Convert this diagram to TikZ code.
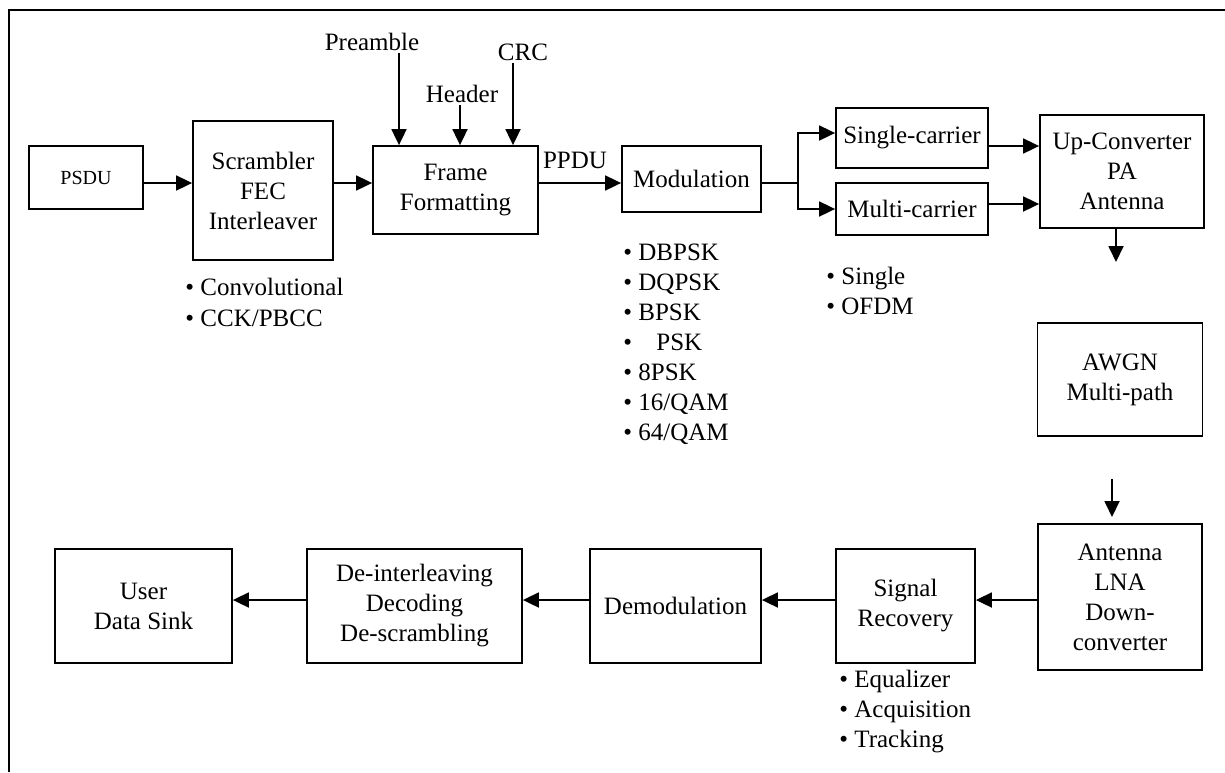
\documentclass[tikz,border=0pt]{standalone}
\usepackage{fontspec}
\setmainfont{Liberation Serif}
\usetikzlibrary{positioning,arrows.meta}

\tikzset{
  blk/.style={draw, line width=0.9pt, align=center, inner sep=1pt},
  arr/.style={line width=0.9pt, -{Triangle[length=8pt,width=7.5pt]}},
  lbl/.style={inner sep=1pt},
  item/.style={anchor=base west, inner sep=0pt}
}

\begin{document}
\begin{tikzpicture}[x=0.5pt, y=-0.5pt, font=\fontsize{12.5}{15}\selectfont]
    \useasboundingbox (0,0) rectangle (1225,772);
    \draw[line width=1.2pt] (9,772) -- (9,10) -- (1225,10);

    % transmitter chain
    \node[blk, font=\fontsize{10}{12}\selectfont, minimum width=57pt, minimum height=31.5pt] (psdu) at (86,177.5) {PSDU};
    \node[blk, minimum width=70pt, minimum height=69.5pt] (scr) at (263,190.5) {Scrambler\\FEC\\Interleaver};
    \node[blk, minimum width=82.5pt, minimum height=44pt] (fmt) at (455.5,190) {Frame\\Formatting};
    \node[blk, minimum width=69.5pt, minimum height=33pt] (modu) at (691.5,179) {Modulation};
    \node[blk, minimum width=76pt, minimum height=30pt] (single) at (912,138) {Single-carrier};
    \node[blk, minimum width=76pt, minimum height=26pt] (multi) at (912,209) {Multi-carrier};
    \node[blk, minimum width=82pt, minimum height=56.5pt] (up) at (1122,171.5) {Up-Converter\\PA\\Antenna};

    \node[lbl] (pre) at (372,42) {Preamble};
    \node[lbl] (hdr) at (462,94) {Header};
    \node[lbl] (crc) at (523,52) {CRC};
    \node[lbl] (ppdu) at (575,160) {PPDU};

    \coordinate (row) at (0,183);
    \coordinate (split) at (798,183);

    \draw[arr] (psdu.east |- row) -- (scr.west |- row);
    \draw[arr] (scr.east |- row) -- (fmt.west |- row);
    \draw[arr] (fmt.east |- row) -- (modu.west |- row);
    \draw[arr] (pre.south -| 399,0) -- (399,0 |- fmt.north);
    \draw[arr] (hdr.south -| 460,0) -- (460,0 |- fmt.north);
    \draw[arr] (crc.south -| 513,0) -- (513,0 |- fmt.north);
    \draw[line width=0.9pt] (modu.east |- split) -- (split);
    \draw[arr] (split) |- ([yshift=2.5pt]single.west);
    \draw[arr] (split) |- (multi.west);
    \draw[arr] (single.east |- 0,146) -- (up.west |- 0,146);
    \draw[arr] (multi.east |- 0,204) -- (up.west |- 0,204);

    % bullet lists
    \foreach \t [count=\i from 0] in {Convolutional, CCK/PBCC}
        \node[item] (c\i) at (185,295+31*\i) {\textbullet\ \t};
    \foreach \t [count=\i from 0] in {DBPSK, DQPSK, BPSK, {\hspace{9pt}PSK}, 8PSK, 16/QAM, 64/QAM}
        \node[item] (m\i) at (623,260+30*\i) {\textbullet\ \t};
    \foreach \t [count=\i from 0] in {Single, OFDM}
        \node[item] (s\i) at (826,284+30*\i) {\textbullet\ \t};

    % channel
    \node[blk, minimum width=82.5pt, minimum height=56.5pt] (awgn) at (1120,379.5) {AWGN\\Multi-path};
    \coordinate (upTip) at (1116,262);
    \coordinate (chTail) at (1112,479);
    \coordinate (chTip) at (1112,517);
    \draw[arr] (up.south -| upTip) -- (upTip);
    \draw[arr] (chTail) -- (chTip);

    % receiver chain
    \node[blk, minimum width=82pt, minimum height=73pt] (ant) at (1120,597) {Antenna\\LNA\\Down-\\converter};
    \node[blk, minimum width=69.5pt, minimum height=57pt] (sig) at (905.5,606) {Signal\\Recovery};
    \node[blk, minimum width=85.5pt, minimum height=57pt] (demod) at (675.5,606) {Demodulation};
    \node[blk, minimum width=107.5pt, minimum height=57pt] (deint) at (414.5,606) {De-interleaving\\Decoding\\De-scrambling};
    \node[blk, minimum width=88.5pt, minimum height=57pt] (user) at (143.5,606) {User\\Data Sink};

    \coordinate (rxrow) at (0,600);
    \draw[arr] (ant.west |- rxrow) -- (sig.east |- rxrow);
    \draw[arr] (sig.west |- rxrow) -- (demod.east |- rxrow);
    \draw[arr] (demod.west |- rxrow) -- (deint.east |- rxrow);
    \draw[arr] (deint.west |- rxrow) -- (user.east |- rxrow);

    \foreach \t [count=\i from 0] in {Equalizer, Acquisition, Tracking}
        \node[item] (e\i) at (839,687+30*\i) {\textbullet\ \t};
\end{tikzpicture}
\end{document}
